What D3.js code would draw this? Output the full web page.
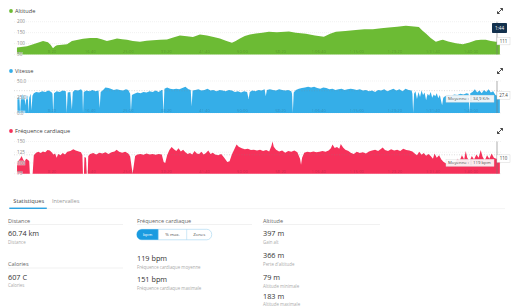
<!DOCTYPE html>
<html>
<head>
<meta charset="utf-8">
<script src="https://cdn.jsdelivr.net/npm/d3@7"></script>
<style>
body { margin: 0; background: #fff; font-family: "Open Sans", sans-serif; }
svg { display: block; }
</style>
</head>
<body>
<svg id="chart" width="512" height="307"></svg>
<script>
// time axis (seconds)
const timeTicks = [500, 1000, 1500, 2000, 2500, 3000, 3500, 4000, 4500, 5000, 5500, 6000];
const timeTickLabels = ["8:20", "16:40", "25:00", "33:20", "41:40", "50:00", "58:20", "1:06:40", "1:15:00", "1:23:20", "1:31:40", "1:40:00"];

// altitude [sec, m]
const altitude = [[39,82],[171,88],[302,103],[381,112],[446,106],[480,95],[512,79],[540,88],[564,92],[696,97],[761,112],[906,122],[1000,125],[1089,126],[1150,120],[1220,112],[1290,118],[1352,123],[1420,120],[1483,118],[1560,112],[1654,108],[1740,113],[1824,115],[1920,117],[2008,119],[2090,128],[2178,137],[2270,133],[2349,130],[2441,142],[2533,137],[2620,130],[2703,123],[2790,112],[2861,104],[2910,112],[2966,123],[3030,135],[3097,142],[3176,146],[3260,150],[3346,154],[3450,152],[3609,155],[3700,150],[3832,145],[3950,137],[4068,131],[4150,145],[4226,154],[4350,158],[4488,162],[4600,165],[4711,166],[4820,170],[4921,174],[5030,177],[5144,181],[5250,178],[5315,176],[5360,160],[5407,146],[5470,125],[5538,108],[5600,115],[5630,118],[5700,110],[5801,101],[5892,97],[5980,105],[6063,115],[6130,118],[6194,117],[6260,112],[6325,108],[6378,111]];
const altTicks = [50, 100, 150, 200];

// speed [sec, km/h]
const speed = [[45,24],[70,26],[80,0],[92,25],[110,29],[135,27],[150,12],[165,28],[182,26],[190,0],[200,24],[218,30],[230,4],[242,27],[260,31],[290,33],[330,32],[370,34],[410,33],[450,35],[490,33],[505,30],[515,0],[525,31],[560,34],[600,33],[640,35],[680,34],[692,0],[705,32],[740,33],[760,5],[772,33],[800,36],[840,35],[880,37],[898,34],[906,0],[916,33],[950,35],[990,34],[1030,36],[1070,34],[1110,35],[1125,8],[1138,33],[1170,36],[1200,40],[1240,39],[1270,38],[1310,36],[1350,37],[1390,36],[1430,35],[1470,37],[1500,36],[1525,30],[1535,2],[1548,28],[1580,30],[1620,32],[1660,31],[1700,33],[1740,32],[1780,34],[1820,33],[1860,35],[1900,33],[1935,36],[1950,36],[1962,0],[1975,38],[2010,40],[2050,38],[2090,37],[2130,38],[2170,37],[2210,39],[2250,41],[2290,37],[2320,36],[2332,10],[2345,35],[2380,36],[2420,37],[2460,35],[2500,36],[2540,38],[2580,35],[2615,36],[2660,34],[2700,36],[2740,35],[2780,34],[2820,36],[2860,35],[2900,33],[2940,34],[2980,32],[3020,34],[3060,33],[3080,22],[3095,33],[3130,35],[3170,34],[3210,36],[3250,35],[3290,37],[3305,26],[3320,36],[3360,37],[3400,36],[3440,35],[3480,37],[3520,36],[3560,35],[3600,36],[3640,34],[3650,30],[3660,0],[3672,32],[3700,36],[3740,38],[3780,39],[3820,40],[3860,41],[3900,40],[3940,41],[3980,39],[4020,38],[4060,40],[4100,39],[4140,37],[4180,38],[4220,36],[4260,37],[4300,38],[4340,36],[4380,37],[4420,38],[4460,37],[4500,36],[4540,37],[4580,35],[4620,36],[4660,34],[4700,35],[4740,33],[4780,36],[4820,35],[4860,37],[4900,34],[4940,36],[4980,38],[5020,35],[5060,37],[5100,34],[5140,38],[5180,36],[5220,35],[5230,30],[5240,0],[5252,30],[5270,34],[5290,22],[5310,33],[5330,25],[5350,35],[5370,28],[5390,32],[5410,20],[5430,30],[5450,27],[5470,33],[5490,24],[5510,29],[5530,26],[5550,31],[5570,23],[5590,28],[5605,20],[5620,12],[5635,24],[5660,26],[5700,28],[5740,27],[5780,29],[5820,28],[5860,30],[5900,29],[5940,31],[5968,30],[5978,0],[5990,31],[6020,33],[6050,37],[6080,32],[6110,35],[6140,31],[6170,36],[6200,33],[6230,37],[6260,32],[6290,34],[6320,28],[6350,27],[6378,27]];
const speedTicks = [0, 25, 50];
const speedAvg = 34.9;

// heart rate [sec, bpm]
const heart = [[40,100],[60,106],[80,110],[100,116],[120,108],[140,104],[160,110],[185,107],[200,104],[208,60],[245,60],[260,118],[290,124],[320,126],[350,123],[380,127],[410,125],[440,130],[470,129],[500,124],[516,120],[540,122],[560,112],[580,121],[610,118],[640,123],[669,120],[700,126],[740,128],[778,132],[810,129],[850,127],[880,125],[898,118],[905,60],[918,60],[925,114],[945,112],[955,60],[968,60],[975,116],[1000,121],[1040,123],[1080,120],[1120,124],[1160,122],[1200,125],[1240,121],[1280,125],[1320,127],[1347,131],[1380,126],[1420,124],[1460,126],[1500,122],[1525,115],[1557,70],[1590,116],[1620,120],[1660,121],[1700,119],[1740,122],[1780,120],[1820,121],[1860,119],[1900,121],[1940,120],[1965,102],[1985,100],[2010,118],[2040,130],[2069,137],[2100,132],[2130,128],[2160,134],[2190,127],[2220,131],[2250,125],[2280,121],[2310,123],[2340,120],[2370,128],[2400,122],[2430,121],[2460,126],[2490,120],[2520,123],[2550,129],[2580,121],[2610,124],[2640,120],[2680,118],[2720,121],[2760,112],[2800,102],[2830,104],[2860,120],[2900,135],[2922,143],[2950,138],[2990,134],[3030,132],[3070,133],[3110,130],[3150,131],[3190,129],[3230,131],[3270,128],[3310,130],[3350,127],[3380,140],[3394,150],[3410,138],[3440,131],[3480,127],[3520,129],[3560,124],[3600,128],[3640,126],[3680,129],[3720,125],[3755,110],[3768,96],[3782,112],[3810,124],[3850,126],[3890,125],[3930,127],[3970,125],[4010,126],[4050,128],[4090,126],[4130,129],[4160,134],[4181,143],[4210,135],[4240,137],[4270,133],[4290,144],[4320,136],[4350,131],[4390,128],[4420,124],[4460,121],[4500,126],[4540,123],[4580,125],[4620,122],[4660,127],[4700,129],[4740,131],[4780,128],[4820,133],[4840,136],[4870,130],[4910,128],[4950,132],[4990,129],[5030,131],[5070,128],[5110,133],[5150,130],[5190,129],[5230,127],[5260,122],[5290,118],[5320,126],[5350,119],[5380,123],[5410,117],[5440,121],[5470,116],[5500,110],[5520,122],[5550,112],[5580,118],[5610,108],[5640,102],[5680,98],[5720,104],[5760,99],[5790,101],[5820,110],[5850,105],[5880,118],[5910,108],[5930,128],[5950,112],[5980,104],[6010,116],[6040,108],[6070,120],[6100,112],[6127,130],[6150,115],[6180,106],[6210,118],[6240,110],[6270,122],[6300,112],[6330,110],[6378,110]];
const heartTicks = [75, 100, 125, 150];
const heartAvg = 119;

const svg = d3.select("#chart");
const x = d3.scaleLinear().domain([0, 6380]).range([14, 500]);
const cursorX = 497;

const panels = [
    {title: "Altitude", color: "#6cbb34", data: altitude, ticks: altTicks, domain: [50, 200], top: 21.7, bottom: 54.5, titleY: 11, fmt: d3.format("d"), hoverValue: "111", hoverAt: 111},
    {title: "Vitesse", color: "#35aee8", data: speed, ticks: speedTicks, domain: [0, 50], top: 81, bottom: 113, titleY: 71, fmt: d3.format(".1f"), avg: speedAvg, avgText: "34,9 K/h", hoverValue: "27.4", hoverAt: 27.4},
    {title: "Fréquence cardiaque", color: "#f5315a", data: heart, ticks: heartTicks, domain: [75, 150], top: 141.5, bottom: 173.7, titleY: 131, fmt: d3.format("d"), avg: heartAvg, avgText: "119 bpm", hoverValue: "110", hoverAt: 110}
];

panels.forEach(function (p) {
    const g = svg.append("g");
    const y = d3.scaleLinear().domain(p.domain).range([p.bottom, p.top]).clamp(true);

    // title
    g.append("circle").attr("cx", 11).attr("cy", p.titleY).attr("r", 1.9).attr("fill", p.color);
    g.append("text").attr("x", 15).attr("y", p.titleY + 2).attr("font-size", 5.6).attr("fill", "#444").text(p.title);

    // expand icon
    g.append("path")
        .attr("transform", "translate(500," + p.titleY + ")")
        .attr("d", "M-2.5,2.5L2.5,-2.5M0.3,-2.5L2.5,-2.5L2.5,-0.3M-2.5,0.3L-2.5,2.5L-0.3,2.5")
        .attr("fill", "none").attr("stroke", "#333").attr("stroke-width", 0.9);

    // gridlines
    g.selectAll(".grid").data(p.ticks).enter().append("line")
        .attr("x1", 14).attr("x2", 502)
        .attr("y1", d => y(d)).attr("y2", d => y(d))
        .attr("stroke", "#e4e4e4").attr("stroke-width", 0.5).attr("stroke-dasharray", "1,1");

    // area
    const area = d3.area()
        .x(d => x(d[0]))
        .y0(p.bottom)
        .y1(d => y(d[1]));
    g.append("path").datum(p.data).attr("d", area).attr("fill", p.color);

    // average line
    if (p.avg !== undefined) {
        g.append("line")
            .attr("x1", 14).attr("x2", 502)
            .attr("y1", y(p.avg)).attr("y2", y(p.avg))
            .attr("stroke", "#888").attr("stroke-opacity", 0.6).attr("stroke-width", 0.5).attr("stroke-dasharray", "1,1.5");
    }

    // x tick labels inside the plot
    g.selectAll(".xt").data(timeTicks).enter().append("text")
        .attr("x", d => x(d)).attr("y", p.bottom - 1.2)
        .attr("text-anchor", "middle").attr("font-size", 4.3)
        .attr("fill", "#000").attr("fill-opacity", 0.22)
        .text((d, i) => timeTickLabels[i]);

    // y tick labels
    const yl = g.selectAll(".yt").data(p.ticks).enter().append("g")
        .attr("transform", d => "translate(17," + y(d) + ")");
    yl.append("rect").attr("x", -0.5).attr("y", -2.4).attr("width", d => p.fmt(d).length * 2.6 + 1).attr("height", 4.8)
        .attr("fill", "#fff").attr("fill-opacity", 0.55);
    yl.append("text").attr("dy", "0.35em").attr("font-size", 4.6).attr("fill", "#888").text(d => p.fmt(d));

    // cursor
    g.append("line").attr("x1", cursorX).attr("x2", cursorX).attr("y1", p.top).attr("y2", p.bottom)
        .attr("stroke", "#777").attr("stroke-width", 0.6);

    // average badge
    if (p.avg !== undefined) {
        const by = y(p.avg) + 4.5;
        const b = g.append("g").attr("transform", "translate(446," + by + ")");
        b.append("rect").attr("width", 48).attr("height", 7).attr("fill", "#fafafa").attr("fill-opacity", 0.92)
            .attr("stroke", "#ddd").attr("stroke-width", 0.4);
        b.append("line").attr("x1", 25).attr("x2", 25).attr("y1", 1).attr("y2", 6).attr("stroke", "#ccc").attr("stroke-width", 0.4);
        b.append("text").attr("x", 2).attr("y", 5).attr("font-size", 4.3).attr("fill", "#555").text("Moyenne :");
        b.append("text").attr("x", 27).attr("y", 5).attr("font-size", 4.3).attr("fill", "#555").text(p.avgText);
    }

    // hover value box
    const hy = y(p.hoverAt);
    const hb = g.append("g").attr("transform", "translate(497," + (hy - 3.8) + ")");
    hb.append("rect").attr("width", 13).attr("height", 7.5).attr("fill", "#fff").attr("stroke", "#ccc").attr("stroke-width", 0.4);
    hb.append("text").attr("x", 6.5).attr("y", 5.4).attr("text-anchor", "middle").attr("font-size", 4.4).attr("fill", "#444").text(p.hoverValue);
});

// time badge on top panel
const tb = svg.append("g").attr("transform", "translate(492,23)");
tb.append("rect").attr("width", 15).attr("height", 10).attr("rx", 0.8).attr("fill", "#13314d");
tb.append("text").attr("x", 7.5).attr("y", 6.6).attr("text-anchor", "middle").attr("font-size", 4.6).attr("fill", "#fff").text("1:44");

// ---- statistics ----
const stats = svg.append("g");
stats.append("line").attr("x1", 9).attr("x2", 505).attr("y1", 208.6).attr("y2", 208.6).attr("stroke", "#ececec").attr("stroke-width", 0.6);
stats.append("rect").attr("x", 9.3).attr("y", 207.6).attr("width", 37.5).attr("height", 1.3).attr("fill", "#1a9be0");
stats.append("text").attr("x", 13.3).attr("y", 203).attr("font-size", 5.7).attr("fill", "#444").text("Statistiques");
stats.append("text").attr("x", 52).attr("y", 203).attr("font-size", 5.7).attr("fill", "#999").text("Intervalles");

const headers = [
    {x: 8, x2: 123, y: 222.5, text: "Distance"},
    {x: 8, x2: 123, y: 266, text: "Calories"},
    {x: 137, x2: 252, y: 222.5, text: "Fréquence cardiaque"},
    {x: 263, x2: 380, y: 222.5, text: "Altitude"}
];
headers.forEach(function (h) {
    stats.append("text").attr("x", h.x).attr("y", h.y).attr("font-size", 5.5).attr("fill", "#666").text(h.text);
    stats.append("line").attr("x1", h.x).attr("x2", h.x2).attr("y1", h.y + 2).attr("y2", h.y + 2).attr("stroke", "#e8e8e8").attr("stroke-width", 0.6);
});

const statValues = ["60.74 km", "607 C", "119 bpm", "151 bpm", "397 m", "366 m", "79 m", "183 m"];
const statLabels = ["Distance", "Calories", "Fréquence cardiaque moyenne", "Fréquence cardiaque maximale", "Gain alt", "Perte d'altitude", "Altitude minimale", "Altitude maximale"];
const statX = [8, 8, 137, 137, 263, 263, 263, 263];
const statY = [235.7, 279.5, 261, 282.3, 236, 258, 280, 299];
const labelGap = [7.8, 7.8, 7.8, 7.8, 7.8, 7.8, 7.8, 7.4];

statValues.forEach(function (v, i) {
    stats.append("text").attr("x", statX[i]).attr("y", statY[i]).attr("font-size", 7.3).attr("fill", "#333").text(v);
    stats.append("text").attr("x", statX[i]).attr("y", statY[i] + labelGap[i]).attr("font-size", 4.4).attr("fill", "#aaa").text(statLabels[i]);
});

// unit buttons
const buttons = ["bpm", "% max.", "Zones"];
const btnX = [136.7, 158.3, 186.7, 211.7];
const bg = stats.append("g");
bg.append("rect").attr("x", btnX[0]).attr("y", 229.3).attr("width", btnX[3] - btnX[0]).attr("height", 10.5).attr("rx", 5)
    .attr("fill", "#fff").attr("stroke", "#9fd3f0").attr("stroke-width", 0.6);
bg.append("path")
    .attr("d", "M" + (btnX[0] + 5) + ",229.3H" + btnX[1] + "V239.8H" + (btnX[0] + 5) + "A5,5.25 0 0 1 " + (btnX[0] + 5) + ",229.3Z")
    .attr("fill", "#1a9be0");
[1, 2].forEach(function (i) {
    bg.append("line").attr("x1", btnX[i]).attr("x2", btnX[i]).attr("y1", 229.3).attr("y2", 239.8).attr("stroke", "#9fd3f0").attr("stroke-width", 0.5);
});
buttons.forEach(function (b, i) {
    bg.append("text").attr("x", (btnX[i] + btnX[i + 1]) / 2).attr("y", 236.2).attr("text-anchor", "middle")
        .attr("font-size", 4.3).attr("fill", i === 0 ? "#fff" : "#555").text(b);
});
</script>
</body>
</html>
